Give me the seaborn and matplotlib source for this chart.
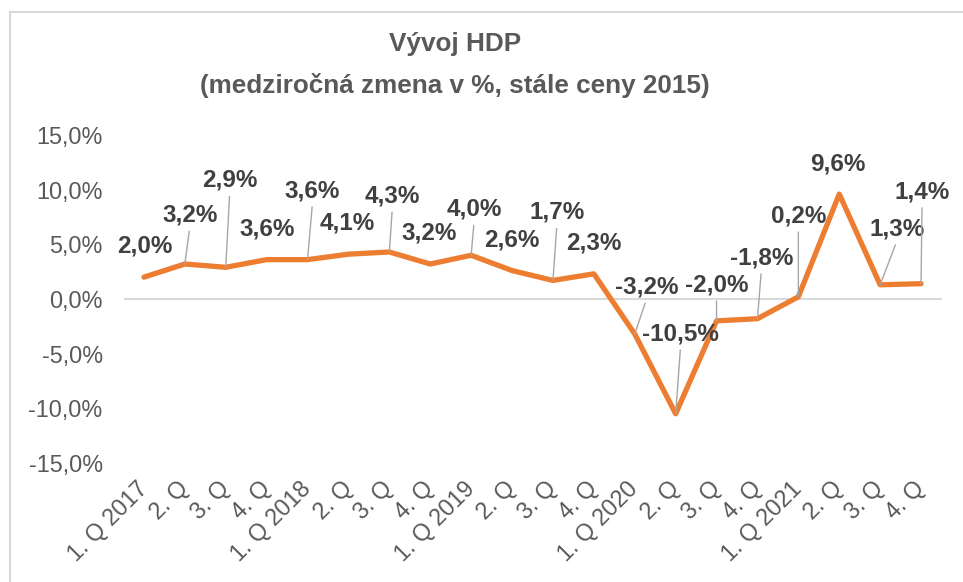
import matplotlib
matplotlib.use("Agg")
import matplotlib.pyplot as plt
from matplotlib.patches import Rectangle
import numpy as np
import pandas as pd
import seaborn as sns

# Data
quarters = ["1. Q 2017", "2. Q", "3. Q", "4. Q",
            "1. Q 2018", "2. Q", "3. Q", "4. Q",
            "1. Q 2019", "2. Q", "3. Q", "4. Q",
            "1. Q 2020", "2. Q", "3. Q", "4. Q",
            "1. Q 2021", "2. Q", "3. Q", "4. Q"]
gdp_growth = [2.0, 3.2, 2.9, 3.6, 3.6, 4.1, 4.3, 3.2, 4.0, 2.6,
              1.7, 2.3, -3.2, -10.5, -2.0, -1.8, 0.2, 9.6, 1.3, 1.4]
y_ticks = [-15, -10, -5, 0, 5, 10, 15]

# label offsets in pixels (dx, dy) from each point, like the Excel labels
label_dx = [1, 5, 4, 1, 5, -1, 3, -1, 3, 0, 4, 0, 12, 5, 0, 4, 0, -1, 17, 1]
label_dy = [31, 49, 87, 31, 69, 31, 56, 31, 46, 31, 68, 31, 47, 80, 36, 61, 81, 30, 56, 92]

df = pd.DataFrame({"pos": np.arange(len(gdp_growth)), "growth": gdp_growth})

sns.set_style("white")
plt.rcParams["font.family"] = ["Liberation Sans", "DejaVu Sans"]

W, H = 963, 582
fig = plt.figure(figsize=(W / 100, H / 100), dpi=100)
ax = fig.add_axes([123.5 / W, 1 - 463 / H, (941.5 - 123.5) / W, (463 - 135) / H])

# outer frame (only left and top edges visible in the reference)
fig.patches.append(Rectangle((10 / W, -0.1), 1.2, 1 - 12 / H + 0.1,
                             transform=fig.transFigure, fill=False,
                             edgecolor="#d9d9d9", linewidth=1.5))

ax.axhline(0, color="#d9d9d9", linewidth=1.5, zorder=1)
sns.lineplot(data=df, x="pos", y="growth", ax=ax, color="#ED7D31",
             linewidth=3.8, solid_capstyle="round", solid_joinstyle="round",
             zorder=3)

for i, v in enumerate(gdp_growth):
    txt = f"{v:.1f}%".replace(".", ",")
    arrow = None
    if label_dy[i] > 33:
        arrow = dict(arrowstyle="-", color="#a6a6a6", lw=1.0,
                     relpos=(0.5, 0.0), shrinkA=1, shrinkB=0)
    ax.annotate(txt, xy=(i, v), xytext=(label_dx[i], label_dy[i]),
                textcoords="offset pixels", ha="center", va="center",
                fontsize=17.5, fontweight="bold", color="#404040",
                arrowprops=arrow, zorder=4)

ax.set_xlim(-0.5, len(gdp_growth) - 0.5)
ax.set_ylim(-15, 15)
ax.set_yticks(y_ticks)
ax.set_yticklabels([f"{t:.1f}%".replace(".", ",") for t in y_ticks],
                   fontsize=16.8, color="#595959")
ax.set_xticks(df["pos"])
ax.set_xticklabels(quarters, fontsize=16.8, color="#595959",
                   rotation=45, ha="right", va="center",
                   rotation_mode="anchor")
ax.tick_params(axis="y", length=0, pad=15)
ax.tick_params(axis="x", length=0, pad=16)
ax.set_xlabel("")
ax.set_ylabel("")
sns.despine(ax=ax, left=True, bottom=True)

title_x = 455 / W
fig.text(title_x, 1 - 44 / H, "Vývoj HDP", ha="center", va="center",
         fontsize=18.8, fontweight="bold", color="#595959")
fig.text(title_x, 1 - 86 / H, "(medziročná zmena v %, stále ceny 2015)",
         ha="center", va="center", fontsize=18.8, fontweight="bold",
         color="#595959")

fig.savefig("out.png", dpi=100)
